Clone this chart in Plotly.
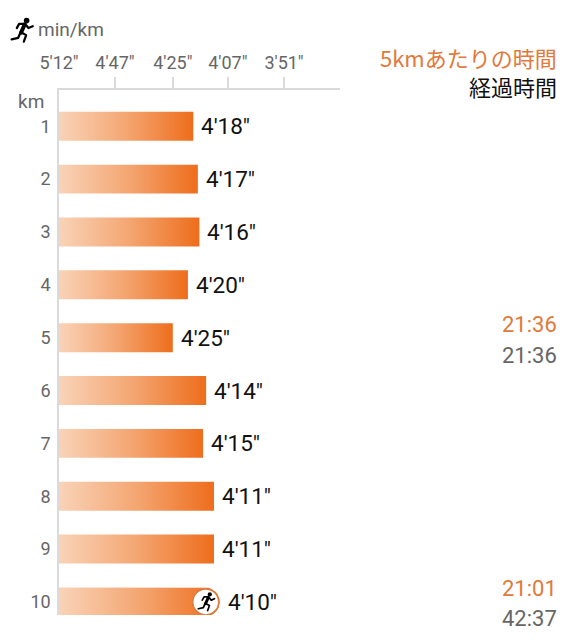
import base64
import math
import plotly.graph_objects as go

km = [1, 2, 3, 4, 5, 6, 7, 8, 9, 10]
pace_labels = ["4'18\"", "4'17\"", "4'16\"", "4'20\"", "4'25\"", "4'14\"", "4'15\"", "4'11\"", "4'11\"", "4'10\""]
pace_seconds = [258, 256.5, 256, 259.8, 265, 253.8, 254.8, 251.3, 251.3, 249.5]
tick_labels = ["5'12\"", "4'47\"", "4'25\"", "4'07\"", "3'51\""]
tick_seconds = [312, 287, 265, 247, 231]
split_texts = ["21:36", "21:36", "21:01", "42:37"]
split_kinds = ["split", "total", "split", "total"]
legend_split = "5kmあたりの時間"
legend_total = "経過時間"

W, H = 573, 640
L, T, R, B = 59, 89.5, 340, 615
PW, PH = R - L, B - T
tick_vals = [1.0 / s for s in tick_seconds]
ppu = (284 - 59) / (tick_vals[4] - tick_vals[0])
x0 = tick_vals[0]
x1 = x0 + PW / ppu
row = 52.9
y_top = 1 - (125.8 - T) / row
y_bot = 1 + (B - 125.8) / row
half = 14.5 / row
split_ypx = [324.5, 355.5, 588, 619]

svg = ('<svg xmlns="http://www.w3.org/2000/svg" viewBox="0 0 32 32">'
       '<circle cx="22" cy="7.5" r="3" fill="#000"/>'
       '<path d="M20 11.5 L16 20.5" stroke="#000" stroke-width="4.2" stroke-linecap="round" fill="none"/>'
       '<path d="M20 11 L14 11 L11.5 15.5 M21.5 12.5 L24 15.5 L28.5 13.5 M16 20 L21.5 23 L19 30 M15.5 20 '
       'L13 26 L6 27.5" stroke="#000" stroke-width="2.4" stroke-linejoin="round" stroke-linecap="round" fill="none"/>'
       '</svg>')
icon = "data:image/svg+xml;base64," + base64.b64encode(svg.encode()).decode()

GRAD = dict(type="horizontal", colorscale=[[0, "#F9D3B8"], [0.5, "#F4A672"], [1, "#EE6D1C"]])
TXT = "Roboto, sans-serif"
CJK = "'Noto Sans CJK JP', sans-serif"
ORANGE = "#E2793A"
GRAY = "#666666"
LINE = "#DADADA"

fig = go.Figure()
for k, sec in zip(km, pace_seconds):
    v = 1.0 / sec
    if k == km[-1]:
        r = 14.5
        xs = [x0, v - r / ppu]
        ys = [k - half, k - half]
        for i in range(1, 16):
            a = -math.pi / 2 + math.pi * i / 16
            xs.append(v - r / ppu + r * math.cos(a) / ppu)
            ys.append(k + r * math.sin(a) / row)
        xs += [v - r / ppu, x0, x0]
        ys += [k + half, k + half, k - half]
    else:
        xs = [x0, v, v, x0, x0]
        ys = [k - half, k - half, k + half, k + half, k - half]
    fig.add_trace(go.Scatter(x=xs, y=ys, mode="lines", line=dict(width=0), fill="toself",
                             fillgradient=GRAD, hoverinfo="skip", showlegend=False))

last_v = 1.0 / pace_seconds[-1]
fig.add_trace(go.Scatter(x=[last_v - 14 / ppu], y=[km[-1]], mode="markers",
                         marker=dict(size=26, color="white", line=dict(color="#E07A3A", width=1.5)),
                         hoverinfo="skip", showlegend=False))
# second trace carrying the tick marks on the overlaid axis
fig.add_trace(go.Scatter(x=[x0], y=[km[0]], xaxis="x2", mode="markers", marker=dict(opacity=0),
                         hoverinfo="skip", showlegend=False))

annotations = []
for k, lab, sec in zip(km, pace_labels, pace_seconds):
    annotations.append(dict(x=1.0 / sec, y=k, xref="x", yref="y", text=lab, showarrow=False,
                            xanchor="left", yanchor="middle", xshift=6, yshift=0,
                            font=dict(family=TXT, size=22.5, color="#111111")))


def px(xp):
    return (xp - L) / PW


def py(yp):
    return 1 - (yp - T) / PH


annotations += [
    dict(x=px(36), y=py(29), xref="paper", yref="paper", text="min/km", showarrow=False, xanchor="left",
         yanchor="middle", font=dict(family=TXT, size=19, color=GRAY)),
    dict(x=px(46), y=py(101), xref="paper", yref="paper", text="km", showarrow=False, xanchor="right",
         yanchor="middle", font=dict(family=TXT, size=19, color=GRAY)),
    dict(x=px(559), y=py(56), xref="paper", yref="paper", text=legend_split, showarrow=False, xanchor="right",
         yanchor="middle", font=dict(family=CJK, size=22, color=ORANGE)),
    dict(x=px(559), y=py(85), xref="paper", yref="paper", text=legend_total, showarrow=False, xanchor="right",
         yanchor="middle", font=dict(family=CJK, size=22, color="#111111")),
]
for yp, t_, kind in zip(split_ypx, split_texts, split_kinds):
    annotations.append(dict(x=px(559), y=py(yp), xref="paper", yref="paper", text=t_, showarrow=False,
                            xanchor="right", yanchor="middle",
                            font=dict(family=TXT, size=22, color=ORANGE if kind == "split" else GRAY)))

images = [
    dict(source=icon, xref="paper", yref="paper", x=px(21), y=py(28), sizex=30 / PW, sizey=30 / PH,
         xanchor="center", yanchor="middle", sizing="contain", layer="above"),
    dict(source=icon, xref="paper", yref="paper", x=px(205.5), y=py(600.5), sizex=23 / PW, sizey=23 / PH,
         xanchor="center", yanchor="middle", sizing="contain", layer="above"),
]

fig.update_layout(
    width=W, height=H, margin=dict(l=L, r=W - R, t=T, b=H - B, pad=0, autoexpand=False),
    paper_bgcolor="white", plot_bgcolor="white", showlegend=False,
    annotations=annotations, images=images,
    xaxis=dict(side="top", range=[x0, x1], tickvals=tick_vals, ticktext=tick_labels, showgrid=False,
               zeroline=False, showline=True, linecolor=LINE, linewidth=1.5, ticks="outside",
               tickcolor="rgba(0,0,0,0)", ticklen=12, tickangle=0,
               tickfont=dict(family=TXT, size=18, color=GRAY), fixedrange=True),
    xaxis2=dict(overlaying="x", side="top", range=[x0, x1], tickvals=tick_vals[1:], ticktext=[""] * 4,
                showgrid=False, zeroline=False, showline=False, ticks="outside", tickcolor=LINE,
                ticklen=12, tickwidth=1.5, fixedrange=True),
    yaxis=dict(range=[y_bot, y_top], tickvals=km, ticktext=[str(k) for k in km], showgrid=False,
               zeroline=False, showline=True, linecolor=LINE, linewidth=1.5, ticks="outside",
               tickcolor="rgba(0,0,0,0)", ticklen=3, tickfont=dict(family=TXT, size=18, color=GRAY),
               fixedrange=True),
)
fig.write_html("out.html", config={"displayModeBar": False},
               post_script="document.body.style.margin='0';document.documentElement.style.overflow='hidden';")
